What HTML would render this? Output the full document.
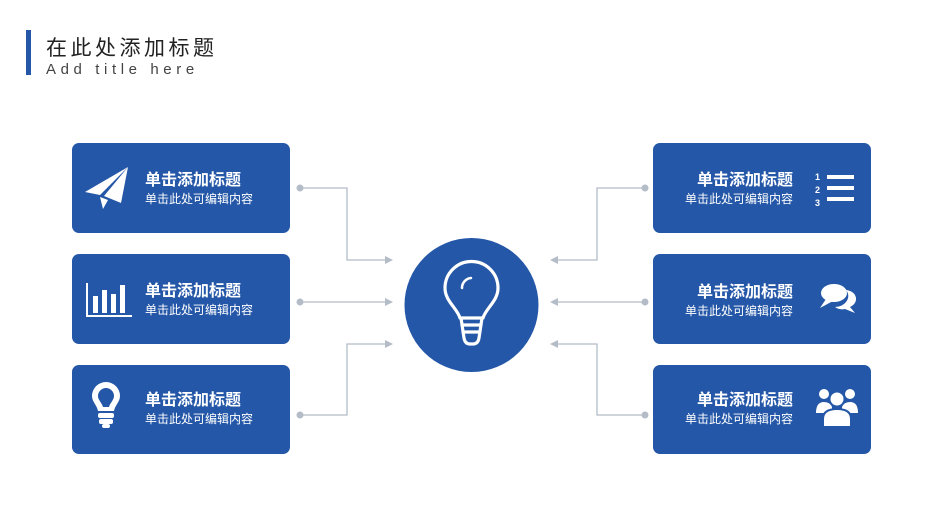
<!DOCTYPE html>
<html><head><meta charset="utf-8"><style>
body{margin:0;background:#fff;width:945px;height:529px;overflow:hidden}
svg{display:block}
text{font-family:"Liberation Sans","Noto Sans CJK SC",sans-serif}
</style></head><body>
<svg width="945" height="529" viewBox="0 0 945 529" xmlns="http://www.w3.org/2000/svg">
<rect x="26" y="30" width="5" height="45" fill="#2457a7"/>
<text x="46" y="55" font-size="21" fill="#222" letter-spacing="3.5">在此处添加标题</text>
<text x="46" y="74" font-size="15" fill="#444" letter-spacing="4.6">Add title here</text>

<g fill="#2457a7">
<rect x="72" y="143" width="218" height="90" rx="7"/>
<rect x="72" y="254" width="218" height="90" rx="7"/>
<rect x="72" y="365" width="218" height="89" rx="7"/>
<rect x="653" y="143" width="218" height="90" rx="7"/>
<rect x="653" y="254" width="218" height="90" rx="7"/>
<rect x="653" y="365" width="218" height="89" rx="7"/>
<circle cx="471.5" cy="305" r="67"/>
</g>

<g stroke="#b4bcc8" stroke-width="1.3" fill="none">
<polyline points="300,188 347,188 347,260 386,260"/>
<polyline points="300,302 386,302"/>
<polyline points="300,415 347,415 347,344 386,344"/>
<polyline points="645,188 597,188 597,260 557,260"/>
<polyline points="645,302 557,302"/>
<polyline points="645,415 597,415 597,344 557,344"/>
</g>
<g fill="#b4bcc8">
<circle cx="300" cy="188" r="3.5"/><circle cx="300" cy="302" r="3.5"/><circle cx="300" cy="415" r="3.5"/>
<circle cx="645" cy="188" r="3.5"/><circle cx="645" cy="302" r="3.5"/><circle cx="645" cy="415" r="3.5"/>
<polygon points="393,260 385,256 385,264"/><polygon points="393,302 385,298 385,306"/><polygon points="393,344 385,340 385,348"/>
<polygon points="550,260 558,256 558,264"/><polygon points="550,302 558,298 558,306"/><polygon points="550,344 558,340 558,348"/>
</g>

<g fill="#fff">
<text x="145" y="185" font-size="16" font-weight="bold">单击添加标题</text>
<text x="145" y="203" font-size="12">单击此处可编辑内容</text>
<text x="145" y="296" font-size="16" font-weight="bold">单击添加标题</text>
<text x="145" y="314" font-size="12">单击此处可编辑内容</text>
<text x="145" y="405" font-size="16" font-weight="bold">单击添加标题</text>
<text x="145" y="423" font-size="12">单击此处可编辑内容</text>
<text x="793" y="185" font-size="16" font-weight="bold" text-anchor="end">单击添加标题</text>
<text x="793" y="203" font-size="12" text-anchor="end">单击此处可编辑内容</text>
<text x="793" y="297" font-size="16" font-weight="bold" text-anchor="end">单击添加标题</text>
<text x="793" y="315" font-size="12" text-anchor="end">单击此处可编辑内容</text>
<text x="793" y="405" font-size="16" font-weight="bold" text-anchor="end">单击添加标题</text>
<text x="793" y="423" font-size="12" text-anchor="end">单击此处可编辑内容</text>

<polygon points="128,167 85,192 100,195"/>
<polygon points="128,167 104,196 121,203"/>
<polygon points="100,197 103,209 108,200"/>
<rect x="86" y="283" width="2" height="34"/><rect x="86" y="315" width="46" height="2"/>
<rect x="93" y="296" width="5" height="17"/><rect x="102" y="290" width="5" height="23"/><rect x="111" y="294" width="5" height="19"/><rect x="120" y="285" width="5" height="28"/>
<text x="815" y="180" font-size="9" font-weight="bold">1</text>
<text x="815" y="193" font-size="9" font-weight="bold">2</text>
<text x="815" y="206" font-size="9" font-weight="bold">3</text>
<rect x="827" y="175" width="27" height="4"/><rect x="827" y="186" width="27" height="4"/><rect x="827" y="197" width="27" height="4"/>
<ellipse cx="834" cy="293" rx="13" ry="9"/>
<polygon points="826,299 820,308 833,301"/>
<path d="M846,290 a11,9 0 0 1 4,17 l5,6 l-10,-4 a11,9 0 0 1 -10,-2 a14,11 0 0 0 11,-17z"/>
<circle cx="824" cy="394" r="5"/><circle cx="850" cy="394" r="5"/>
<path d="M816,413 q0,-11 8,-11 q6,0 8,5 v6z"/><path d="M858,413 q0,-11 -8,-11 q-6,0 -8,5 v6z"/>
<circle cx="837" cy="399" r="7.5" stroke="#2457a7" stroke-width="2"/>
<path d="M823,427 v-8 q0,-10 14,-10 q14,0 14,10 v8z" stroke="#2457a7" stroke-width="2"/>
<path d="M106,382 a14,14 0 0 1 14,14 c0,6 -5,9 -6,15 h-16 c-1,-6 -6,-9 -6,-15 a14,14 0 0 1 14,-14z M106,388 a8,8 0 0 0 -8,8 c0,4 4,7 5,11 h6 c1,-4 5,-7 5,-11 a8,8 0 0 0 -8,-8z" fill-rule="evenodd"/>
<rect x="98" y="413" width="16" height="5" rx="2"/><rect x="99" y="419" width="14" height="5" rx="2"/>
<rect x="102" y="424" width="8" height="4" rx="2"/>
</g>
<g stroke="#fff" stroke-width="3.2" fill="none" stroke-linecap="round" stroke-linejoin="round">
<path d="M460,318 c-3,-10 -15,-17 -15,-30 a26.5,26.5 0 0 1 53,0 c0,13 -12,20 -15,30 z"/>
<path d="M462,325 h19 M463,332 h17"/>
<path d="M461,318 l3,20 q1,6 6,6 h3 q5,0 6,-6 l3,-20"/>
<path d="M462,288 a10,10 0 0 1 9,-10" stroke-width="2.5"/>
</g>
</svg>
</body></html>
